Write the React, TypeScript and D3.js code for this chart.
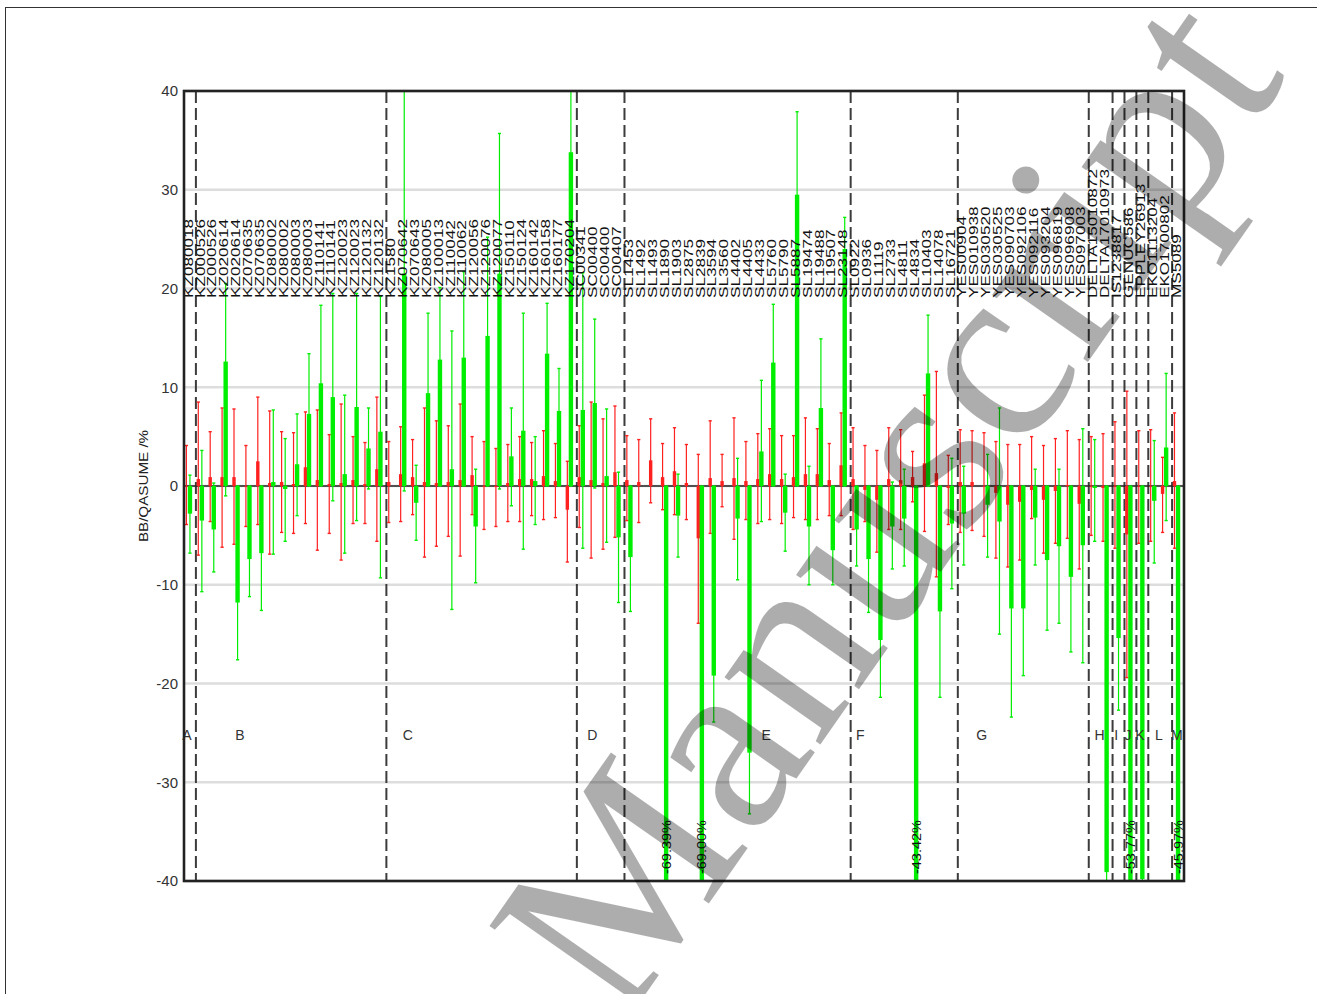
import React from 'react';
import * as d3 from 'd3';

// Station identifiers, one per x slot
const stations = [
  'KZ080018',
  'KZ000526', 'KZ000526', 'KZ020614', 'KZ020614', 'KZ070635', 'KZ070635', 'KZ080002', 'KZ080002',
  'KZ080003', 'KZ080003', 'KZ110141', 'KZ110141', 'KZ120023', 'KZ120023', 'KZ120132', 'KZ120132',
  'KZ1580', 'KZ070642', 'KZ070643', 'KZ080005', 'KZ100013', 'KZ110042', 'KZ110062', 'KZ120056',
  'KZ120076', 'KZ120077', 'KZ150110', 'KZ150124', 'KZ160142', 'KZ160158', 'KZ160177', 'KZ170204',
  'SC00341', 'SC00400', 'SC00400', 'SC00407',
  'SL1453', 'SL1492', 'SL1493', 'SL1890', 'SL1903', 'SL2875', 'SL2839', 'SL3594', 'SL3560', 'SL4402',
  'SL4405', 'SL4433', 'SL5760', 'SL5790', 'SL5887', 'SL19474', 'SL19488', 'SL19507', 'SL23148',
  'SL0922', 'SL0936', 'SL1119', 'SL2733', 'SL4811', 'SL4834', 'SL10403', 'SL14078', 'SL16721',
  'YES00904', 'YES010938', 'YES030520', 'YES030525', 'YES090703', 'YES092106', 'YES092116',
  'YES093204', 'YES096819', 'YES096908', 'YES097003',
  'DELTA15010872', 'DELTA17010973',
  'IS1238817',
  'GENUC586',
  'EPPLEY26913',
  'EKO1113204', 'EKO1700802',
  'MS5089',
];

// Instrument groups: letter and number of stations in each
const groupLetters = ['A', 'B', 'C', 'D', 'E', 'F', 'G', 'H', 'I', 'J', 'K', 'L', 'M'];
const groupSizes = [1, 16, 16, 4, 19, 9, 11, 2, 1, 1, 1, 2, 1];
// where each group letter sits, in station-index units
const groupLetterAt = [0.25, 4.7, 18.8, 34.3, 48.9, 56.8, 67.0, 76.9, 78.3, 79.3, 80.3, 81.9, 83.4];

// First series (red): mean deviation and min / max, %
const redMean = [
  0,
  0.7, 0.9, 0.9, 0.9, 0, 2.5, 0.3, 0.4, 0.2, 1.9, 0.6, 0.2, 0.3, 0.6, 0.2, 1.7,
  0.4, 1.2, 0.9, 0.4, 0.3, 0.4, 0.6, 1.1, 0, -0.1, 0.3, 0.7, 0.7, 1.0, 0.5, -2.4,
  0.9, 0.6, 0.3, 1.4,
  0.6, 0.4, 2.6, 0.9, 1.5, 0.3, -5.3, 0.8, 0.5, 0.8, 0.5, 0.7, 1.2, 0.7, 0.9, 1.2, 1.2, 0.6, 2.1,
  0.7, -0.4, -1.4, 0.7, 0.6, 0.9, 2.3, 1.3, -0.2,
  0.4, 0.4, 0, -0.7, -1.9, -1.6, -0.4, -1.4, -0.5, 0.1, -1.8,
  0, -0.2, 0, -4.9, 0, 0, -0.8, 0.5,
];
const redLow = [
  -3.9,
  -7.0, -3.6, -6.2, -5.9, -4.1, -3.9, -6.9, -4.7, -4.8, -3.8, -6.5, -4.8, -7.5, -3.8, -3.8, -5.6,
  -3.7, -3.6, -2.9, -7.2, -6.1, -5.1, -7.1, -2.9, -4.4, -4.1, -3.6, -3.6, -3.0, -3.4, -3.2, -7.7,
  -4.2, -7.3, -6.4, -5.2,
  -3.5, -3.7, -1.7, -2.4, -2.9, -3.4, -13.9, -4.8, -2.1, -5.4, -3.4, -3.8, -3.4, -3.8, -3.2, -3.4, -3.4, -3.0, -3.0,
  -4.4, -3.6, -6.7, -4.4, -4.4, -1.6, -4.6, -9.2, -3.9,
  -4.7, -4.5, -5.1, -7.3, -8.2, -7.5, -3.3, -6.8, -5.8, -5.3, -8.4,
  -5.0, -5.6, -6.3, -19.4, -5.8, -5.6, -4.7, -6.3,
];
const redHigh = [
  4.1,
  8.5, 5.5, 7.9, 7.8, 4.1, 9.0, 7.6, 5.5, 5.4, 7.5, 7.7, 5.2, 8.3, 5.0, 4.4, 9.0,
  4.5, 6.0, 4.7, 7.9, 6.6, 6.1, 8.3, 5.0, 4.5, 3.8, 4.2, 5.0, 4.4, 5.6, 4.3, 2.5,
  6.1, 8.5, 6.8, 8.1,
  5.1, 4.7, 6.8, 4.3, 5.9, 4.2, 3.2, 6.6, 3.2, 6.9, 4.5, 5.3, 5.8, 5.1, 5.1, 6.9, 5.8, 4.3, 7.4,
  5.9, 4.1, 3.6, 5.9, 5.7, 3.5, 9.2, 11.6, 3.1,
  5.7, 5.6, 5.4, 4.5, 4.2, 4.2, 5.0, 4.1, 4.8, 5.6, 4.7,
  5.0, 5.3, 6.5, 9.6, 5.6, 5.7, 2.9, 7.4,
];

// Second series (green): mean deviation and min / max, %; null where not measured
const greenMean = [
  -2.8,
  -3.5, -4.4, 12.6, -11.8, -7.4, -6.8, 0.4, -0.3, 2.2, 7.3, 10.4, 9.0, 1.2, 8.0, 3.8, 5.5,
  null, 21.5, -1.7, 9.4, 12.8, 1.7, 13.0, -4.1, 15.2, 21.5, 3.0, 5.6, 0.5, 13.4, 7.6, 33.8,
  7.7, 8.4, 1.0, -5.2,
  -7.2, null, null, -69.39, -3.0, null, -69.0, -19.2, null, -3.3, -27.0, 3.5, 12.5, -2.7, 29.5, -4.1, 7.9, -6.5, 24.0,
  -4.4, -7.4, -15.6, -4.1, -3.3, -43.42, 11.4, -12.7, -3.8,
  -2.8, null, -1.9, -3.6, -12.4, -12.4, -3.2, -7.5, -6.1, -9.2, -6.0,
  -0.2, -39.1, -15.4, -53.77, -39.8, -1.5, 3.9, -45.97,
];
const greenLow = [
  -6.8,
  -10.7, -8.7, -1.0, -17.6, -11.2, -12.6, -6.9, -5.6, -3.0, 0, 0, -1.5, -6.8, -3.5, -0.3, -9.3,
  null, -0.5, -5.5, 0, 0, -12.5, 0, -9.8, 0, -0.3, -2.0, -6.4, -3.9, 0, 0, 0,
  -6.3, -0.2, -5.7, -11.8,
  -12.7, null, null, -75, -7.2, null, -75, -23.9, null, -9.5, -33.2, -3.6, 0, -6.6, 0, -10.0, 0, -10.0, 0,
  -8.1, -12.8, -21.4, -8.4, -8.1, -50, 0, -21.4, -10.4,
  -8.0, null, -7.2, -15.0, -23.4, -19.2, -8.0, -14.6, -13.9, -16.8, -17.9,
  -5.6, -41, -22.7, -60, -41, -7.8, -3.5, -50,
];
const greenHigh = [
  1.1,
  3.6, 0.3, 20.5, 0, 0, 0, 7.7, 4.8, 7.3, 13.4, 18.3, 19.5, 9.2, 19.5, 7.9, 19.2,
  null, 42, 2.1, 17.5, 20.1, 15.7, 21.7, 1.7, 25.2, 35.7, 7.9, 17.5, 5.0, 18.5, 11.9, 41,
  21.6, 16.9, 7.8, 1.4,
  0, null, null, 0, 1.2, null, 0, 0, null, 2.8, 0, 10.7, 18.4, 1.2, 37.9, 2.0, 14.9, 0, 27.2,
  0, 0, 0, 0.4, 1.7, 0, 17.3, 0, 2.8,
  2.0, null, 3.2, 7.9, 0, 0, 1.7, 0, 1.7, 0, 5.8,
  4.7, 0, 0, 0, 0, 4.6, 11.4, 0,
];

const yTicks = [40, 30, 20, 10, 0, -10, -20, -30, -40];

const W = 1317;
const H = 994;
const plot = { left: 184, right: 1184, top: 91, bottom: 881 };

const RED = '#ff2020';
const GREEN = '#00ee00';
const SANS = '"Liberation Sans", Arial, sans-serif';

type BarProps = {
  cx: number;
  mean: number;
  lo: number;
  hi: number;
  color: string;
  width: number;
  y: d3.ScaleLinear<number, number>;
};

function ErrorBar({ cx, mean, lo, hi, color, width, y }: BarProps) {
  const y0 = y(0);
  const ym = y(mean);
  const cap = 1.6;
  return (
    <g>
      <line x1={cx} x2={cx} y1={y(lo)} y2={y(hi)} stroke={color} strokeWidth={1.2} />
      <line x1={cx - cap} x2={cx + cap} y1={y(lo)} y2={y(lo)} stroke={color} strokeWidth={1.4} />
      <line x1={cx - cap} x2={cx + cap} y1={y(hi)} y2={y(hi)} stroke={color} strokeWidth={1.4} />
      <rect
        x={cx - width / 2}
        y={Math.min(y0, ym)}
        width={width}
        height={Math.max(Math.abs(ym - y0), 0.6)}
        fill={color}
      />
    </g>
  );
}

export default function App() {
  const n = stations.length;
  const idx = d3.range(n);
  const x = d3.scaleBand<number>().domain(idx).range([plot.left, plot.right]).padding(0);
  const bw = x.bandwidth();
  const xIndex = d3.scaleLinear().domain([0, n]).range([plot.left, plot.right]);
  const y = d3.scaleLinear().domain([-40, 40]).range([plot.bottom, plot.top]);

  const boundaries = (Array.from(d3.cumsum(groupSizes)) as number[]).slice(0, -1);
  const redX = (i: number) => (x(i) as number) + bw * 0.2;
  const greenX = (i: number) => (x(i) as number) + bw * 0.5;

  return (
    <svg
      width={W}
      height={H}
      viewBox={`0 0 ${W} ${H}`}
      style={{ position: 'absolute', left: 0, top: 0, background: '#fff' }}
    >
      <defs>
        <clipPath id="plot-area">
          <rect x={plot.left} y={plot.top} width={plot.right - plot.left} height={plot.bottom - plot.top} />
        </clipPath>
      </defs>

      {/* page border */}
      <rect x={5.5} y={7.5} width={W} height={H} fill="none" stroke="#333" strokeWidth={1} />

      {/* horizontal grid */}
      {yTicks.map((t) => (
        <line
          key={`g${t}`}
          x1={plot.left}
          x2={plot.right}
          y1={y(t)}
          y2={y(t)}
          stroke="#dddddd"
          strokeWidth={2.5}
        />
      ))}

      {/* group separators */}
      {boundaries.map((b) => (
        <line
          key={`sep${b}`}
          x1={xIndex(b)}
          x2={xIndex(b)}
          y1={plot.top}
          y2={plot.bottom}
          stroke="#3c3c3c"
          strokeWidth={2}
          strokeDasharray="12 5"
        />
      ))}

      {/* zero line */}
      <line x1={plot.left} x2={plot.right} y1={y(0)} y2={y(0)} stroke="#222" strokeWidth={1.6} />

      <g clipPath="url(#plot-area)">
        {idx.map((i) => (
          <ErrorBar
            key={`r${i}`}
            cx={redX(i)}
            mean={redMean[i]}
            lo={redLow[i]}
            hi={redHigh[i]}
            color={RED}
            width={3.4}
            y={y}
          />
        ))}
        {idx.map((i) =>
          greenMean[i] === null ? null : (
            <ErrorBar
              key={`gr${i}`}
              cx={greenX(i)}
              mean={greenMean[i] as number}
              lo={greenLow[i] as number}
              hi={greenHigh[i] as number}
              color={GREEN}
              width={4.4}
              y={y}
            />
          )
        )}
      </g>

      {/* station names */}
      {idx.map((i) => (
        <text
          key={`s${i}`}
          transform={`translate(${(x(i) as number) + 8.6},298) rotate(-90) scale(1.27,1)`}
          fontFamily={SANS}
          fontSize={13.5}
          fill="#111"
        >
          {stations[i]}
        </text>
      ))}

      {/* values beyond the lower axis limit */}
      {idx
        .filter((i) => greenMean[i] !== null && (greenMean[i] as number) < -40)
        .map((i) => (
          <text
            key={`v${i}`}
            transform={`translate(${greenX(i) + 4.6},874) rotate(-90) scale(1.16,1)`}
            fontFamily={SANS}
            fontSize={12.5}
            fill="#111"
          >
            {`${(greenMean[i] as number).toFixed(2)}%`}
          </text>
        ))}

      {/* group letters */}
      {groupLetters.map((g, k) => (
        <text
          key={`gl${g}`}
          x={xIndex(groupLetterAt[k])}
          y={740}
          textAnchor="middle"
          fontFamily={SANS}
          fontSize={14}
          fill="#333"
        >
          {g}
        </text>
      ))}

      {/* frame */}
      <rect
        x={plot.left}
        y={plot.top}
        width={plot.right - plot.left}
        height={plot.bottom - plot.top}
        fill="none"
        stroke="#222"
        strokeWidth={2.6}
      />

      {/* y axis */}
      {yTicks.map((t) => (
        <text
          key={`t${t}`}
          x={178}
          y={y(t)}
          dy="0.36em"
          textAnchor="end"
          fontFamily={SANS}
          fontSize={15}
          fill="#333"
        >
          {t}
        </text>
      ))}
      <text
        transform="translate(148,486) rotate(-90) scale(1.17,1)"
        textAnchor="middle"
        fontFamily={SANS}
        fontSize={13}
        fill="#222"
      >
        BB/QASUME /%
      </text>

      {/* watermark */}
      <text
        transform="translate(955,552) rotate(-55)"
        textAnchor="middle"
        fontFamily='"Liberation Serif", "Times New Roman", serif'
        fontSize={255}
        fill="#000"
        fillOpacity={0.32}
      >
        Manuscript
      </text>
    </svg>
  );
}
